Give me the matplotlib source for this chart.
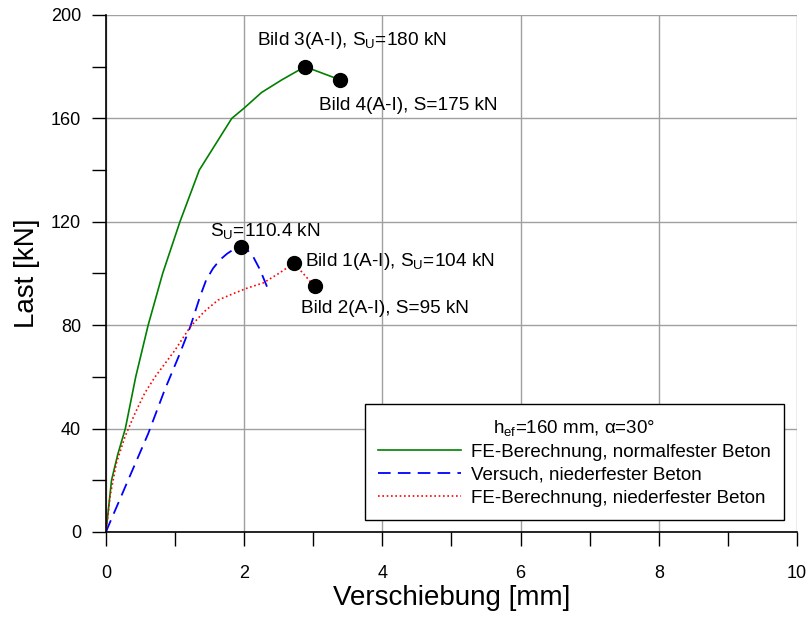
import numpy as np
import matplotlib
matplotlib.use("Agg")
import matplotlib.pyplot as plt
from matplotlib.ticker import MultipleLocator

plt.rcParams['font.family'] = ['Liberation Sans', 'DejaVu Sans']
plt.rcParams['mathtext.fontset'] = 'custom'
plt.rcParams['mathtext.rm'] = 'Liberation Sans'
plt.rcParams['mathtext.it'] = 'Liberation Sans'

# --- curves: displacement [mm] vs. load [kN] ---
fe_normal_x = [0, 0.08, 0.17, 0.28, 0.43, 0.61, 0.82, 1.07, 1.35, 1.82, 2.0, 2.25, 2.55, 2.88, 3.38]
fe_normal_y = [0, 20, 30, 40, 60, 80, 100, 120, 140, 160, 164, 170, 175, 180, 175]

test_low_x = [0, 0.03, 0.3, 0.61, 0.85, 1.05, 1.22, 1.36, 1.45, 1.55, 1.65, 1.75, 1.85, 1.95, 2.05, 2.13, 2.23, 2.33]
test_low_y = [0, 2, 18.8, 38, 55, 67.8, 79.4, 91, 97.5, 102, 105.3, 107.6, 109.4, 110.4, 109, 106.5, 101.4, 94.9]

fe_low_x = [0, 0.06, 0.15, 0.275, 0.42, 0.56, 0.71, 1.0, 1.22, 1.42, 1.62, 1.85, 2.04, 2.28, 2.5, 2.72, 3.02]
fe_low_y = [0, 14, 26.6, 36.9, 45.9, 53.7, 60, 70.4, 79.4, 85.2, 89.7, 92.3, 94.3, 96.4, 100, 104, 95]

# --- marked points and their labels ---
mark_x = [2.88, 3.38, 1.95, 2.72, 3.02]
mark_y = [180, 175, 110.4, 104, 95]
mark_labels = [r'Bild 3(A-I), S$_\mathrm{U}$=180 kN',
               'Bild 4(A-I), S=175 kN',
               r'S$_\mathrm{U}$=110.4 kN',
               r'Bild 1(A-I), S$_\mathrm{U}$=104 kN',
               'Bild 2(A-I), S=95 kN']
label_x = [2.18, 3.08, 1.5, 2.88, 2.82]
label_y = [190.3, 165, 116.5, 104.5, 86.5]

fig = plt.figure(figsize=(8.11, 6.17), dpi=100)
ax = fig.add_axes([0.1307, 0.1378, 0.852, 0.8379])

ax.plot(fe_normal_x, fe_normal_y, color='green', lw=1.2,
        label='FE-Berechnung, normalfester Beton')
ax.plot(test_low_x, test_low_y, color='blue', lw=1.3, dashes=(7, 4),
        label='Versuch, niederfester Beton')
ax.plot(fe_low_x, fe_low_y, color='red', lw=1.2, dashes=(1, 1.6),
        label='FE-Berechnung, niederfester Beton')

ax.plot(mark_x, mark_y, 'o', color='black', ms=10, zorder=5)
for tx, ty, lab in zip(label_x, label_y, mark_labels):
    ax.text(tx, ty, lab, fontsize=13.7, va='center', ha='left')

ax.set_xlim(0, 10)
ax.set_ylim(0, 200)
ax.xaxis.set_major_locator(MultipleLocator(2))
ax.xaxis.set_minor_locator(MultipleLocator(1))
ax.yaxis.set_major_locator(MultipleLocator(40))
ax.yaxis.set_minor_locator(MultipleLocator(20))
ax.tick_params(which='both', direction='out', length=10, width=1)
ax.tick_params(axis='x', which='major', labelsize=13, pad=14)
ax.tick_params(axis='y', which='major', labelsize=13, pad=8)
ax.grid(True, which='major', color='#a0a0a0', lw=1)
ax.set_axisbelow(True)
for side in ('top', 'right'):
    ax.spines[side].set_visible(False)
for side in ('left', 'bottom'):
    ax.spines[side].set_linewidth(1.2)

ax.set_xlabel('Verschiebung [mm]', fontsize=20, labelpad=2)
ax.set_ylabel('Last [kN]', fontsize=20, labelpad=8)

leg = ax.legend(loc='lower right', bbox_to_anchor=(0.981, 0.023),
                title=r'h$_\mathrm{ef}$=160 mm, $\alpha$=30°', title_fontsize=13.5,
                fontsize=13.5, fancybox=False, edgecolor='black', framealpha=1,
                handlelength=4.4, handletextpad=0.55, borderpad=0.7, labelspacing=0.32,
                borderaxespad=0)
leg.get_frame().set_linewidth(1)

fig.savefig('out.png', dpi=100)
